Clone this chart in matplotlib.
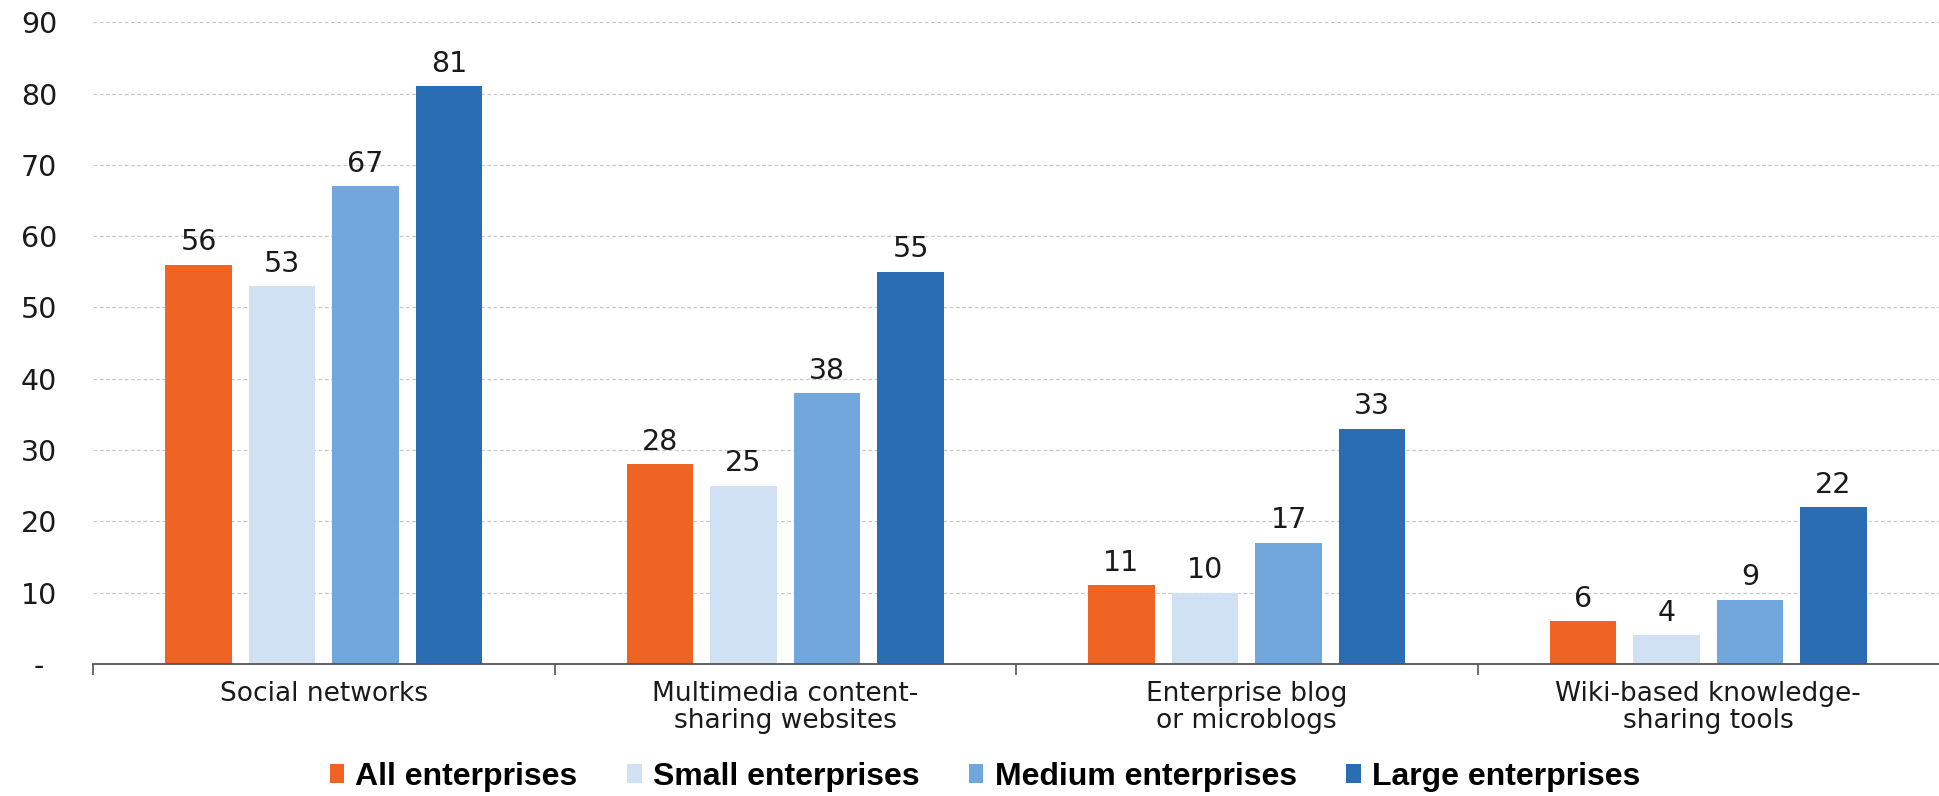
import numpy as np
import matplotlib.pyplot as plt
from matplotlib.patches import Patch

plt.rcParams['font.family'] = ['DejaVu Sans']

# usage of social media by enterprise size (% of enterprises)
categories = ["Social networks", "Multimedia content-\nsharing websites",
              "Enterprise blog\nor microblogs", "Wiki-based knowledge-\nsharing tools"]
series = ["All enterprises", "Small enterprises", "Medium enterprises", "Large enterprises"]
all_ent = [56, 28, 11, 6]
small_ent = [53, 25, 10, 4]
medium_ent = [67, 38, 17, 9]
large_ent = [81, 55, 33, 22]
yticks = [0, 10, 20, 30, 40, 50, 60, 70, 80, 90]
ytick_labels = ["-", "10", "20", "30", "40", "50", "60", "70", "80", "90"]

colors = ["#EF6423", "#D0E1F3", "#72A7DD", "#2A6DB4"]
txt = "#1a1a1a"

fig = plt.figure(figsize=(19.39, 7.96), dpi=100)
ax = fig.add_axes([0.048, 0.166, 0.952, 0.806])

x = np.arange(len(categories))
width = 0.144
step = 0.181
offsets = (np.arange(4) - 1.5) * step

for vals, off, col in zip([all_ent, small_ent, medium_ent, large_ent], offsets, colors):
    bars = ax.bar(x + off, vals, width, color=col, zorder=3)
    for b, v in zip(bars, vals):
        ax.annotate(str(v), (b.get_x() + b.get_width() / 2, v), xytext=(0, 6),
                    textcoords="offset points", ha="center", va="bottom",
                    fontsize=20.5, color=txt)

ax.set_ylim(0, 90)
ax.set_xlim(-0.5, 3.5)
ax.set_yticks(yticks)
ax.set_yticklabels(ytick_labels, fontsize=20.5, color=txt, ha="center")
ax.tick_params(axis="y", length=0, pad=39)

ax.set_xticks(x)
ax.set_xticklabels(categories, fontsize=19, color=txt, linespacing=1.05)
ax.set_xticks([-0.5, 0.5, 1.5, 2.5], minor=True)
ax.tick_params(axis="x", which="major", length=0, pad=12)
ax.tick_params(axis="x", which="minor", length=8, width=1.2, color="#555555", direction="out")

ax.yaxis.grid(True, linestyle=(0, (3, 2)), color="#C8C8C8", linewidth=0.9, zorder=0)
for side in ["left", "right", "top"]:
    ax.spines[side].set_visible(False)
ax.spines["bottom"].set_color("#555555")
ax.spines["bottom"].set_linewidth(1.3)
ax.spines["bottom"].set_zorder(4)

handles = [Patch(facecolor=c, edgecolor="none") for c in colors]
fig.legend(handles, series, loc="center", bbox_to_anchor=(0.508, 0.024), ncol=4,
           frameon=False, prop={"family": "Liberation Sans", "weight": "bold", "size": 23},
           handlelength=0.45, handleheight=0.5, handletextpad=0.35, columnspacing=1.55,
           borderpad=0)

fig.savefig("out.png", dpi=100)
